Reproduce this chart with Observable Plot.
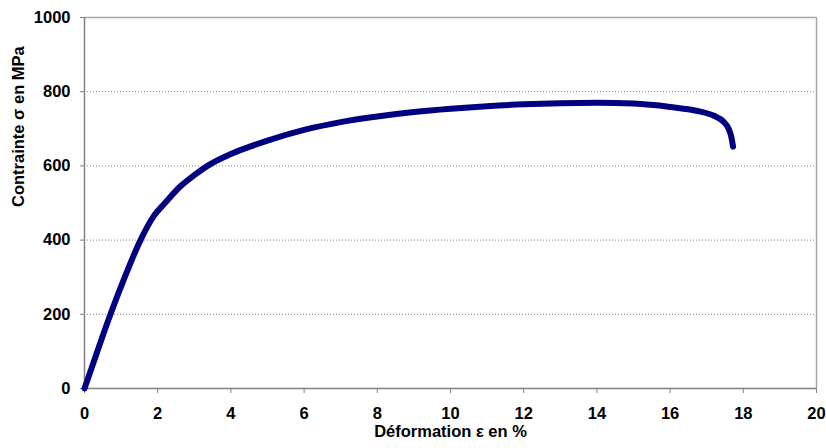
<!DOCTYPE html>
<html>
<head>
<meta charset="utf-8">
<script src="https://cdn.jsdelivr.net/npm/d3@7"></script>
<script src="https://cdn.jsdelivr.net/npm/@observablehq/plot@0.6"></script>
<style>
  html, body { margin: 0; padding: 0; background: #fff; }
  #chart svg { display: block; }
  #chart svg text { font-weight: bold; }
</style>
</head>
<body>
<div id="chart"></div>
<script>
// Strain (%) and stress (MPa)
const strain = [0, 0.35, 0.71, 1.1, 1.53, 1.9, 2.2, 2.6, 3.0, 3.36, 4, 5, 6, 7, 8, 9, 10, 11, 12, 13, 14, 15, 16, 16.8, 17.2, 17.45, 17.6, 17.68, 17.72];
const stress = [0, 100, 200, 300, 400, 466, 500, 543, 575, 600, 632, 668, 697, 718, 733, 745, 754, 761, 766, 769, 770, 768, 759, 747, 735, 720, 700, 675, 652];
const xTicks = [0, 2, 4, 6, 8, 10, 12, 14, 16, 18, 20];
const yTicks = [0, 200, 400, 600, 800, 1000];
const gridValues = [200, 400, 600, 800];
const xTitle = "Déformation ε en %";
const yTitle = "Contrainte σ en MPa";

const data = strain.map((x, i) => ({x, y: stress[i]}));

const chart = Plot.plot({
  width: 826,
  height: 448,
  marginLeft: 84,
  marginRight: 10,
  marginTop: 17,
  marginBottom: 60,
  style: {fontFamily: "'Liberation Sans', Arial, sans-serif", fontWeight: "bold", fontSize: "16px", color: "#000", background: "#fff"},
  x: {domain: [0, 20]},
  y: {domain: [0, 1000]},
  marks: [
    Plot.gridY(gridValues, {stroke: "#808080", strokeOpacity: 1, strokeDasharray: "1,2"}),
    Plot.ruleY([1000], {stroke: "#a8a8a8", strokeWidth: 1.5}),
    Plot.ruleX([20], {stroke: "#a8a8a8", strokeWidth: 1.5}),
    Plot.ruleX([0], {stroke: "#808080", strokeWidth: 1.5}),
    Plot.ruleY([0], {stroke: "#808080", strokeWidth: 1.5}),
    Plot.axisX(xTicks, {tickSize: 5, tickPadding: 14, label: null, stroke: "#808080", fill: "#000", fontSize: 16.5, fontWeight: "bold", tickFormat: d => String(d)}),
    Plot.axisY(yTicks, {tickSize: 4, tickPadding: 10, label: null, stroke: "#808080", fill: "#000", fontSize: 16.5, fontWeight: "bold", tickFormat: d => String(d)}),
    Plot.line(data, {x: "x", y: "y", curve: "monotone-x", stroke: "#000080", strokeWidth: 6, strokeLinecap: "round", strokeLinejoin: "round"}),
    Plot.text([xTitle], {frameAnchor: "bottom", dy: 48, text: d => d, fontSize: 16.5, fontWeight: "bold", fill: "#000"}),
    Plot.text([yTitle], {frameAnchor: "left", dx: -66, dy: 4, rotate: -90, text: d => d, fontSize: 16.5, fontWeight: "bold", fill: "#000"})
  ]
});
document.getElementById("chart").appendChild(chart);
</script>
</body>
</html>
